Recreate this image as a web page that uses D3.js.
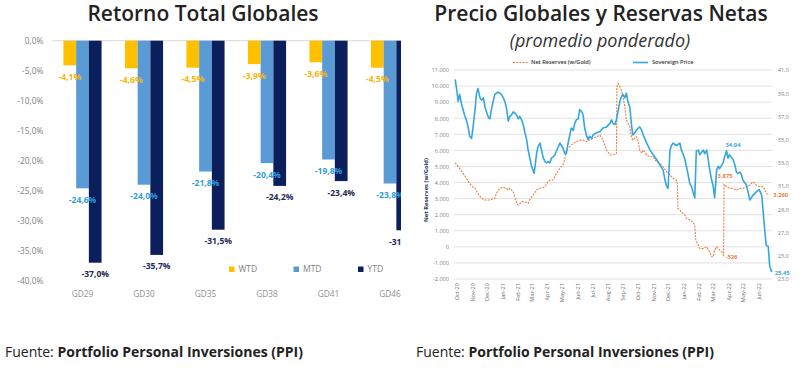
<!DOCTYPE html>
<html>
<head>
<meta charset="utf-8">
<script src="https://cdn.jsdelivr.net/npm/d3@7"></script>
<style>
  body { margin: 0; background: #fff; font-family: 'Open Sans', sans-serif; }
  svg { display: block; }
</style>
</head>
<body>
<svg id="chart" width="800" height="369"></svg>
<script>
// ---------- left chart data ----------
const categories = ['GD29', 'GD30', 'GD35', 'GD38', 'GD41', 'GD46'];
const seriesNames = ['WTD', 'MTD', 'YTD'];
const wtdValues = [-4.1, -4.6, -4.5, -3.9, -3.6, -4.5];
const mtdValues = [-24.6, -24.0, -21.8, -20.4, -19.8, -23.8];
const ytdValues = [-37.0, -35.7, -31.5, -24.2, -23.4, -31.6];
const returnTicks = [0, -5, -10, -15, -20, -25, -30, -35, -40];

// ---------- right chart data ----------
const priceDates = [
  '2020-09-28', '2020-10-01', '2020-10-04', '2020-10-07', '2020-10-11', '2020-10-17', '2020-10-21', '2020-10-24',
  '2020-10-27', '2020-10-31', '2020-11-03', '2020-11-07', '2020-11-10', '2020-11-13', '2020-11-17', '2020-11-20',
  '2020-11-24', '2020-11-27', '2020-11-30', '2020-12-04', '2020-12-07', '2020-12-10', '2020-12-14', '2020-12-17',
  '2020-12-20', '2020-12-24', '2020-12-27', '2020-12-30', '2021-01-03', '2021-01-06', '2021-01-09', '2021-01-13',
  '2021-01-16', '2021-01-19', '2021-01-23', '2021-01-26', '2021-01-30', '2021-02-02', '2021-02-05', '2021-02-09',
  '2021-02-12', '2021-02-15', '2021-02-19', '2021-02-22', '2021-02-25', '2021-03-01', '2021-03-06', '2021-03-08',
  '2021-03-11', '2021-03-14', '2021-03-18', '2021-03-21', '2021-03-24', '2021-03-28', '2021-03-31', '2021-04-03',
  '2021-04-07', '2021-04-10', '2021-04-13', '2021-04-17', '2021-04-20', '2021-04-23', '2021-04-27', '2021-04-30',
  '2021-05-03', '2021-05-07', '2021-05-10', '2021-05-14', '2021-05-17', '2021-05-20', '2021-05-24', '2021-05-27',
  '2021-05-30', '2021-06-03', '2021-06-06', '2021-06-10', '2021-06-13', '2021-06-16', '2021-06-20', '2021-06-23',
  '2021-06-26', '2021-06-30', '2021-07-03', '2021-07-10', '2021-07-17', '2021-07-23', '2021-07-30', '2021-08-06',
  '2021-08-09', '2021-08-12', '2021-08-16', '2021-08-19', '2021-08-22', '2021-08-26', '2021-08-29', '2021-09-01',
  '2021-09-05', '2021-09-08', '2021-09-11', '2021-09-15', '2021-09-18', '2021-09-21', '2021-09-25', '2021-09-28',
  '2021-10-02', '2021-10-05', '2021-10-09', '2021-10-12', '2021-10-19', '2021-10-26', '2021-11-01', '2021-11-08',
  '2021-11-15', '2021-11-21', '2021-11-25', '2021-11-28', '2021-12-01', '2021-12-05', '2021-12-08', '2021-12-11',
  '2021-12-18', '2021-12-25', '2021-12-28', '2021-12-31', '2022-01-04', '2022-01-07', '2022-01-10', '2022-01-14',
  '2022-01-17', '2022-01-24', '2022-01-27', '2022-01-31', '2022-02-03', '2022-02-10', '2022-02-13', '2022-02-17',
  '2022-02-20', '2022-02-23', '2022-02-27', '2022-03-02', '2022-03-05', '2022-03-09', '2022-03-12', '2022-03-15',
  '2022-03-22', '2022-03-25', '2022-03-29', '2022-04-01', '2022-04-04', '2022-04-07', '2022-04-11', '2022-04-15',
  '2022-04-18', '2022-04-21', '2022-04-25', '2022-04-28', '2022-05-01', '2022-05-08', '2022-05-15', '2022-05-18',
  '2022-05-21', '2022-05-28', '2022-06-03', '2022-06-08', '2022-06-11', '2022-06-14', '2022-06-17', '2022-06-21',
  '2022-06-24', '2022-06-28'
];
const priceValues = [
  40.2, 39.3, 38.3, 38.9, 38.0, 37.1, 36.6, 36.1,
  35.3, 35.1, 36.1, 37.6, 39.0, 39.4, 38.6, 38.4,
  38.6, 37.8, 37.4, 36.9, 36.8, 37.6, 38.4, 38.9,
  39.0, 39.1, 39.0, 38.9, 38.6, 38.3, 37.8, 36.6,
  37.0, 37.1, 37.4, 37.3, 37.1, 36.8, 37.0, 36.7,
  36.3, 35.7, 35.0, 34.1, 33.5, 32.7, 32.1, 32.7,
  33.8, 34.4, 34.7, 34.1, 33.5, 33.1, 33.0, 33.1,
  33.0, 33.4, 33.5, 33.7, 34.0, 34.3, 34.7, 34.5,
  34.3, 33.8, 33.8, 34.8, 35.4, 36.0, 35.8, 36.4,
  36.7, 36.8, 37.6, 37.4, 37.1, 36.0, 35.3, 35.0,
  35.3, 35.1, 35.4, 35.6, 35.7, 36.0, 36.1, 36.4,
  36.7, 36.4, 36.3, 36.7, 37.4, 38.3, 38.7, 38.9,
  38.6, 39.0, 38.3, 37.8, 36.4, 35.4, 35.6, 35.8,
  36.0, 36.1, 35.8, 35.4, 34.7, 34.1, 33.7, 33.3,
  32.8, 32.4, 31.5, 31.0, 30.8, 34.1, 34.5, 34.7,
  34.5, 34.7, 34.1, 33.8, 33.3, 32.7, 32.1, 31.2,
  31.0, 30.0, 34.0, 34.1, 33.7, 34.1, 33.8, 34.1,
  33.3, 32.4, 31.5, 31.0, 30.0, 32.4, 32.7, 32.5,
  33.0, 33.5, 34.04, 33.4, 33.7, 33.5, 33.3, 32.8,
  32.2, 32.1, 32.2, 32.0, 31.5, 31.1, 29.8, 30.0,
  30.2, 30.5, 30.7, 30.2, 28.7, 27.2, 25.9, 25.8,
  24.1, 23.6
];

const reserveDates = [
  '2020-09-28', '2020-10-04', '2020-10-07', '2020-10-14', '2020-10-21', '2020-10-27', '2020-11-03', '2020-11-07',
  '2020-11-13', '2020-11-20', '2020-11-27', '2020-12-04', '2020-12-10', '2020-12-17', '2020-12-20', '2020-12-27',
  '2021-01-03', '2021-01-09', '2021-01-13', '2021-01-16', '2021-01-23', '2021-01-30', '2021-02-02', '2021-02-09',
  '2021-02-15', '2021-02-22', '2021-02-25', '2021-03-04', '2021-03-11', '2021-03-18', '2021-03-28', '2021-04-03',
  '2021-04-07', '2021-04-13', '2021-04-20', '2021-04-27', '2021-05-03', '2021-05-07', '2021-05-10', '2021-05-17',
  '2021-05-24', '2021-05-30', '2021-06-06', '2021-06-13', '2021-06-20', '2021-06-26', '2021-07-03', '2021-07-10',
  '2021-07-17', '2021-07-23', '2021-07-30', '2021-08-06', '2021-08-12', '2021-08-19', '2021-08-20', '2021-08-22',
  '2021-08-26', '2021-08-29', '2021-09-01', '2021-09-05', '2021-09-08', '2021-09-15', '2021-09-18', '2021-09-21',
  '2021-09-28', '2021-10-02', '2021-10-05', '2021-10-09', '2021-10-12', '2021-10-19', '2021-10-26', '2021-11-01',
  '2021-11-08', '2021-11-15', '2021-11-21', '2021-11-28', '2021-12-05', '2021-12-11', '2021-12-18', '2021-12-20',
  '2021-12-21', '2021-12-25', '2021-12-31', '2022-01-04', '2022-01-07', '2022-01-14', '2022-01-20', '2022-01-24',
  '2022-01-26', '2022-01-31', '2022-02-03', '2022-02-10', '2022-02-17', '2022-02-23', '2022-02-27', '2022-03-02',
  '2022-03-05', '2022-03-09', '2022-03-12', '2022-03-15', '2022-03-19', '2022-03-23', '2022-03-24', '2022-03-29',
  '2022-04-04', '2022-04-11', '2022-04-18', '2022-04-25', '2022-05-01', '2022-05-08', '2022-05-15', '2022-05-21',
  '2022-05-28', '2022-06-04', '2022-06-11', '2022-06-17', '2022-06-21'
];
const reserveValues = [
  5230, 4980, 4880, 4570, 4260, 3950, 3700, 3640,
  3330, 3020, 2910, 2910, 2950, 3020, 3330, 3640,
  3700, 3640, 3530, 3640, 3430, 2710, 2600, 2800,
  2800, 2710, 2910, 3220, 3530, 3640, 3740, 4050,
  4150, 4160, 4570, 4880, 5090, 5500, 6020, 6230,
  6440, 6540, 6640, 6640, 6540, 6640, 6750, 6850,
  6950, 6640, 6020, 5710, 5710, 5820, 9960, 10170,
  9960, 9760, 9340, 8720, 7890, 7470, 6850, 6640,
  6850, 6540, 6020, 5820, 6020, 5710, 5600, 5600,
  5290, 5190, 4980, 4670, 4470, 4260, 4150, 3840,
  2390, 2290, 2080, 1980, 1770, 1670, 1560, 1350,
  420, 110, -100, -100, 0, -310, -620, -620,
  -200, 0, -100, -200, -310, -526, 3875, 3740,
  3640, 3640, 3530, 3640, 3640, 3740, 3840, 4050,
  3840, 3740, 3740, 3330, 3260
];
const reserveTicks = [11000, 10000, 9000, 8000, 7000, 6000, 5000, 4000, 3000, 2000, 1000, 0, -1000, -2000];
const priceTicks = [41, 39, 37, 35, 33, 31, 29, 27, 25, 23];

// data labels written on the right chart
const priceCallouts = [{ date: '2022-03-29', text: '34,04' }, { date: '2022-06-28', text: '25,45' }];
const reserveCallouts = [{ date: '2022-03-23', text: '-526' }, { date: '2022-03-24', text: '3.875' }, { date: '2022-06-21', text: '3.260' }];

// ---------- setup ----------
const svg = d3.select('#chart');
const locale = d3.formatLocale({ decimal: ',', thousands: '.', grouping: [3], currency: ['$', ''], minus: '-' });
const pctFormat = (d) => `${locale.format('.1f')(d)}%`;
const thousandsFormat = locale.format(',.0f');
const oneDecFormat = locale.format('.1f');
const parseDate = d3.timeParse('%Y-%m-%d');

const BAR_COLORS = { WTD: '#FFC000', MTD: '#5B9BD5', YTD: '#0B1F5C' };
const LABEL_COLORS = { WTD: '#F7B500', MTD: '#2E9CDD', YTD: '#1D2957' };
const ORANGE = '#F07B3F';
const BLUE = '#33A6E0';
const GRID = '#d9d9d9';
const AXIS_TEXT = '#7f7f7f';

// ---------- left: Retorno Total Globales ----------
function drawReturns() {
  svg.append('defs').append('clipPath').attr('id', 'clip-left')
    .append('rect').attr('x', 0).attr('y', 0).attr('width', 401).attr('height', 369);

  const $g = svg.append('g').attr('clip-path', 'url(#clip-left)');

  $g.append('text')
    .attr('x', 203).attr('y', 21)
    .attr('text-anchor', 'middle')
    .style('font-size', '21px').style('font-weight', 600).style('fill', '#222')
    .text('Retorno Total Globales');

  const scaleX = d3.scaleBand().domain(categories).range([51.75, 420.75])
    .paddingInner(0.38).paddingOuter(0.19);
  const scaleSeries = d3.scaleBand().domain(seriesNames).range([0, scaleX.bandwidth()]);
  const scaleY = d3.scaleLinear().domain([-40, 0]).range([280.7, 40.7]);

  // zero line
  $g.append('line')
    .attr('x1', 52).attr('x2', 401)
    .attr('y1', scaleY(0)).attr('y2', scaleY(0))
    .attr('stroke', GRID).attr('stroke-width', 1);

  // y axis
  $g.append('g')
    .attr('transform', 'translate(51.75,0)')
    .call(d3.axisLeft(scaleY).tickValues(returnTicks).tickFormat(pctFormat).tickSize(0).tickPadding(8.5))
    .call((g) => g.select('.domain').remove())
    .call((g) => g.selectAll('text').style('font-family', "'Open Sans', sans-serif")
      .style('font-size', '8.3px').style('fill', AXIS_TEXT));

  // x axis
  $g.append('g')
    .attr('transform', 'translate(0,288)')
    .call(d3.axisBottom(scaleX).tickSize(0).tickPadding(3))
    .call((g) => g.select('.domain').remove())
    .call((g) => g.selectAll('text').style('font-family', "'Open Sans', sans-serif")
      .style('font-size', '8.3px').style('fill', '#909090'));

  const rows = categories.map((c, i) => ({
    key: c,
    values: [
      { s: 'WTD', v: wtdValues[i] },
      { s: 'MTD', v: mtdValues[i] },
      { s: 'YTD', v: ytdValues[i] },
    ],
  }));

  const $groups = $g.selectAll('.group')
    .data(rows)
    .join('g')
    .attr('class', 'group')
    .attr('transform', (d) => `translate(${scaleX(d.key)},0)`);

  $groups.selectAll('rect')
    .data((d) => d.values)
    .join('rect')
    .attr('x', (d) => scaleSeries(d.s))
    .attr('y', scaleY(0))
    .attr('width', scaleSeries.bandwidth())
    .attr('height', (d) => scaleY(d.v) - scaleY(0))
    .attr('fill', (d) => BAR_COLORS[d.s]);

  $groups.selectAll('text.val')
    .data((d) => d.values)
    .join('text')
    .attr('class', 'val')
    .attr('x', (d) => scaleSeries(d.s) + scaleSeries.bandwidth() / 2)
    .attr('y', (d) => scaleY(d.v) + 11.5)
    .attr('dy', '0.35em')
    .attr('text-anchor', 'middle')
    .style('font-size', '8.5px')
    .style('font-weight', 700)
    .style('fill', (d) => LABEL_COLORS[d.s])
    .text((d) => pctFormat(d.v));

  // legend
  const $legend = $g.append('g').attr('transform', 'translate(229,269)');
  const $item = $legend.selectAll('g')
    .data(seriesNames)
    .join('g')
    .attr('transform', (d, i) => `translate(${i * 64.5},0)`);
  $item.append('rect')
    .attr('x', 0).attr('y', -2.5).attr('width', 5.5).attr('height', 5.5)
    .attr('fill', (d) => BAR_COLORS[d]);
  $item.append('text')
    .attr('x', 9.5).attr('dy', '0.35em')
    .style('font-size', '8.5px').style('fill', AXIS_TEXT)
    .text((d) => d);
}

// ---------- right: Precio Globales y Reservas Netas ----------
function drawReserves() {
  const $g = svg.append('g');

  $g.append('text')
    .attr('x', 601).attr('y', 20.5)
    .attr('text-anchor', 'middle')
    .style('font-size', '21px').style('font-weight', 600).style('fill', '#222')
    .text('Precio Globales y Reservas Netas');
  $g.append('text')
    .attr('x', 600).attr('y', 46.5)
    .attr('text-anchor', 'middle')
    .style('font-size', '18px').style('font-style', 'italic').style('fill', '#333')
    .text('(promedio ponderado)');

  const LEFT = 454;
  const RIGHT = 771.7;
  const TOP = 70;
  const BOTTOM = 279;

  const scaleX = d3.scaleTime()
    .domain([parseDate('2020-10-01'), parseDate('2022-06-01')])
    .range([456.7, 758.3]);
  const scaleRes = d3.scaleLinear().domain([-2000, 11000]).range([BOTTOM, TOP]);
  const scalePrice = d3.scaleLinear().domain([23, 41]).range([BOTTOM, TOP]);

  // gridlines
  $g.append('g').selectAll('line')
    .data(reserveTicks)
    .join('line')
    .attr('x1', LEFT).attr('x2', RIGHT)
    .attr('y1', (d) => scaleRes(d)).attr('y2', (d) => scaleRes(d))
    .attr('stroke', GRID).attr('stroke-width', 0.8);

  const smallText = (g, fill) => g.selectAll('text')
    .style('font-family', "'Open Sans', sans-serif")
    .style('font-size', '5.6px')
    .style('fill', fill);

  $g.append('g')
    .attr('transform', `translate(${LEFT},0)`)
    .call(d3.axisLeft(scaleRes).tickValues(reserveTicks).tickFormat(thousandsFormat).tickSize(0).tickPadding(5))
    .call((g) => g.select('.domain').remove())
    .call((g) => smallText(g, AXIS_TEXT));

  $g.append('g')
    .attr('transform', `translate(${RIGHT},0)`)
    .call(d3.axisRight(scalePrice).tickValues(priceTicks).tickFormat(oneDecFormat).tickSize(0).tickPadding(6))
    .call((g) => g.select('.domain').remove())
    .call((g) => smallText(g, AXIS_TEXT));

  $g.append('g')
    .attr('transform', `translate(0,${BOTTOM})`)
    .call(d3.axisBottom(scaleX).ticks(d3.timeMonth.every(1)).tickFormat(d3.timeFormat('%b-%y')).tickSize(0))
    .call((g) => g.select('.domain').remove())
    .call((g) => smallText(g, '#6f6f6f'))
    .call((g) => g.selectAll('text')
      .attr('transform', 'rotate(-90)')
      .attr('x', -4).attr('y', 0).attr('dy', '0.35em')
      .style('text-anchor', 'end'));

  // y title
  $g.append('text')
    .attr('transform', 'translate(428,190) rotate(-90)')
    .attr('text-anchor', 'middle')
    .style('font-size', '5.8px').style('font-weight', 700).style('fill', '#1F3864')
    .text('Net Reserves (w/Gold)');

  // lines
  const reserves = reserveDates.map((d, i) => ({ date: parseDate(d), value: reserveValues[i] }));
  const prices = priceDates.map((d, i) => ({ date: parseDate(d), value: priceValues[i] }));

  const resLine = d3.line().x((d) => scaleX(d.date)).y((d) => scaleRes(d.value));
  const priceLine = d3.line().x((d) => scaleX(d.date)).y((d) => scalePrice(d.value));

  $g.append('path')
    .datum(reserves)
    .attr('d', resLine)
    .attr('fill', 'none')
    .attr('stroke', ORANGE)
    .attr('stroke-width', 1.1)
    .attr('stroke-dasharray', '2,1.2');

  $g.append('path')
    .datum(prices)
    .attr('d', priceLine)
    .attr('fill', 'none')
    .attr('stroke', BLUE)
    .attr('stroke-width', 1.6)
    .attr('stroke-linejoin', 'round');

  // callouts
  const valueAt = (dates, values, date) => values[dates.indexOf(date)];
  const PRICE_OFFSETS = [[-1, -4, 'start'], [3, 2.5, 'start']];
  const RES_OFFSETS = [[2, 4, 'start'], [1, -7, 'middle'], [5, 3, 'start']];

  priceCallouts.forEach((c, i) => {
    const [dx, dy, anchor] = PRICE_OFFSETS[i];
    $g.append('text')
      .attr('x', scaleX(parseDate(c.date)) + dx)
      .attr('y', scalePrice(valueAt(priceDates, priceValues, c.date)) + dy)
      .attr('text-anchor', anchor)
      .style('font-size', '5.8px').style('font-weight', 700).style('fill', BLUE)
      .text(c.text);
  });
  reserveCallouts.forEach((c, i) => {
    const [dx, dy, anchor] = RES_OFFSETS[i];
    $g.append('text')
      .attr('x', scaleX(parseDate(c.date)) + dx)
      .attr('y', scaleRes(valueAt(reserveDates, reserveValues, c.date)) + dy)
      .attr('text-anchor', anchor)
      .style('font-size', '5.8px').style('font-weight', 700).style('fill', ORANGE)
      .text(c.text);
  });

  // legend
  const $legend = $g.append('g').attr('transform', 'translate(0,62.5)');
  $legend.append('line')
    .attr('x1', 513).attr('x2', 528)
    .attr('stroke', ORANGE).attr('stroke-width', 1.1).attr('stroke-dasharray', '2,1.2');
  $legend.append('text')
    .attr('x', 531).attr('dy', '0.35em')
    .style('font-size', '5.6px').style('font-weight', 600).style('fill', '#333')
    .text('Net Reserves (w/Gold)');
  $legend.append('line')
    .attr('x1', 633).attr('x2', 648)
    .attr('stroke', BLUE).attr('stroke-width', 1.6);
  $legend.append('text')
    .attr('x', 652).attr('dy', '0.35em')
    .style('font-size', '5.6px').style('font-weight', 600).style('fill', '#333')
    .text('Sovereign Price');
}

// ---------- sources ----------
function drawSources() {
  [5, 416].forEach((x) => {
    const $t = svg.append('text')
      .attr('x', x).attr('y', 357)
      .style('font-size', '14px').style('fill', '#222');
    $t.append('tspan').text('Fuente: ');
    $t.append('tspan').style('font-weight', 700).text('Portfolio Personal Inversiones (PPI)');
  });
}

drawReturns();
drawReserves();
drawSources();
</script>
</body>
</html>
